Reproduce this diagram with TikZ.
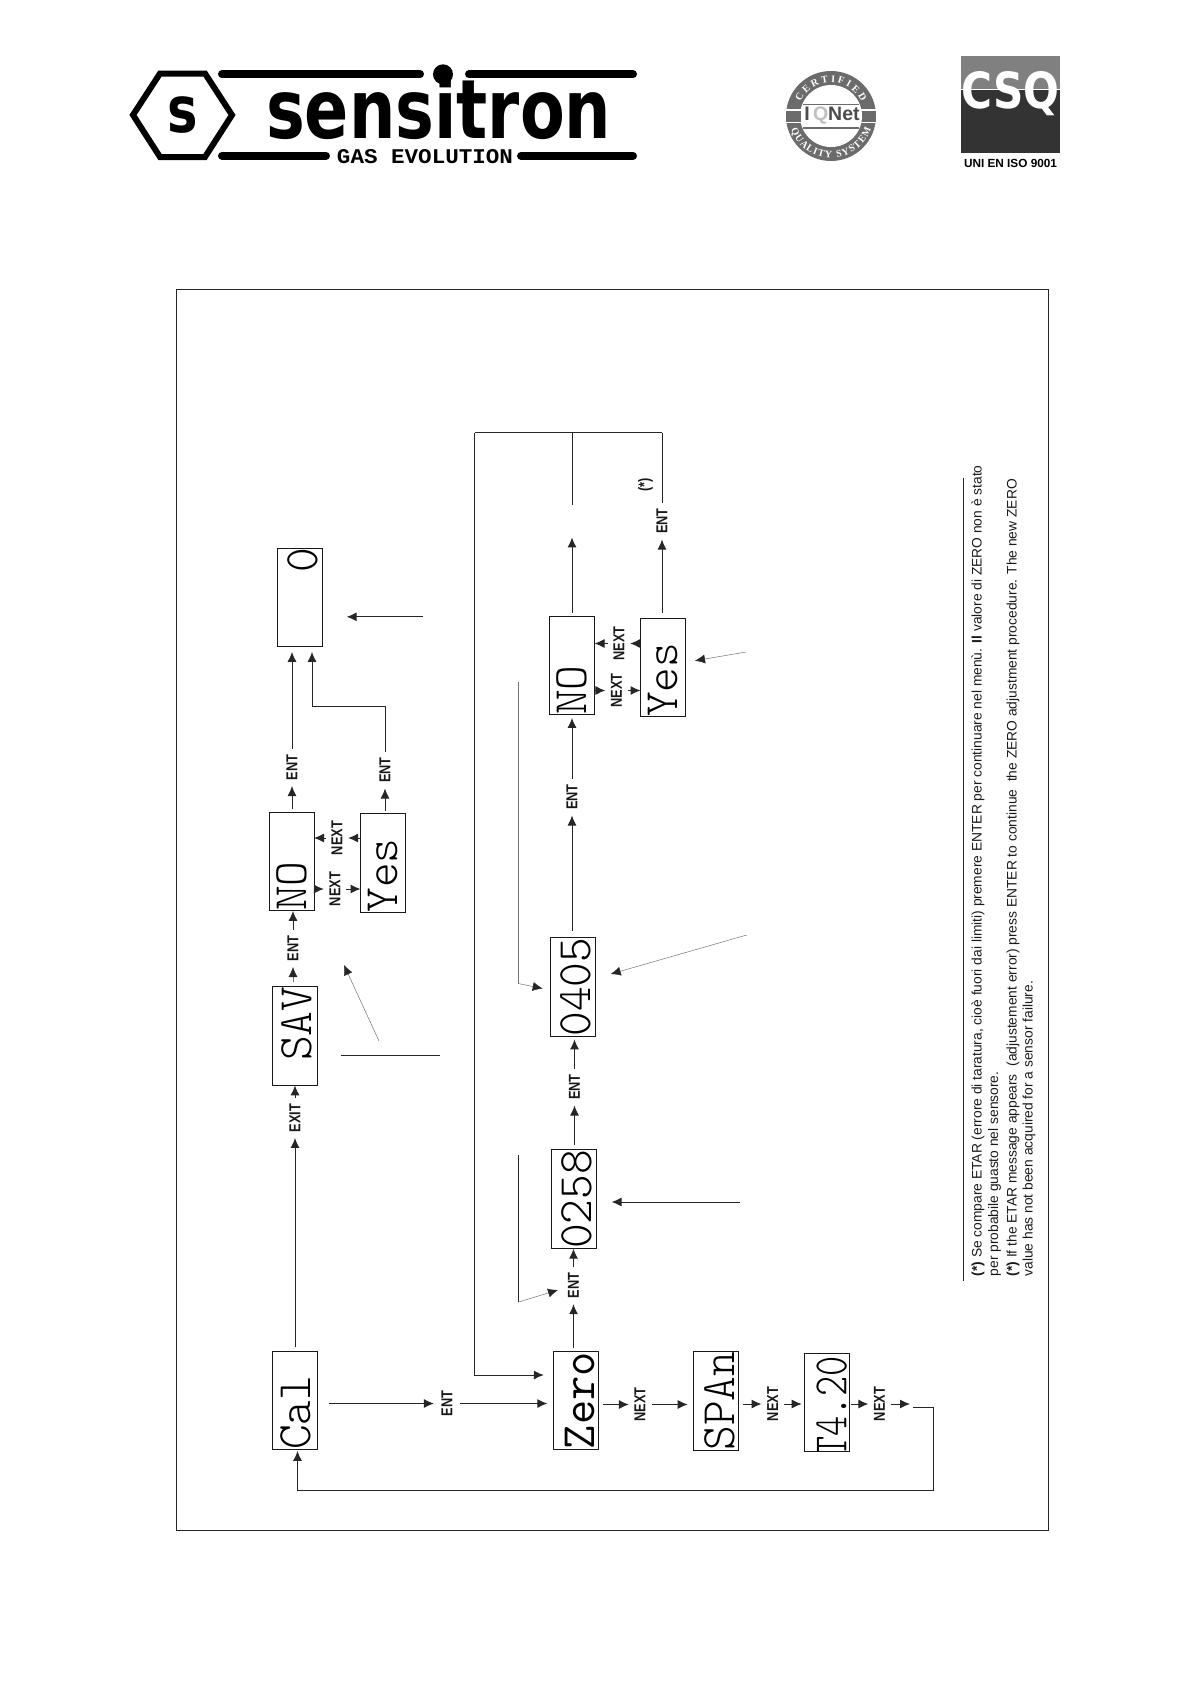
\documentclass[tikz,border=0pt]{standalone}
\usepackage{fontspec}
\usepackage{graphicx}
\setmainfont{Liberation Sans}
\newfontfamily\logofont{DejaVu Sans}
\newfontfamily\slabfont{Liberation Mono}
\newfontfamily\serfont{Liberation Serif}
\newfontfamily\lcdlight{Latin Modern Mono Light}
\usetikzlibrary{arrows.meta,decorations.text}
\newcommand\rv[1]{\rotatebox{90}{\scalebox{.81}[1]{#1}}}
\newcommand\lcd[2][0pt]{\hspace*{#1}\rotatebox{90}{\scalebox{.98}[1]{\ttfamily\fontsize{48}{48}\selectfont #2}}}
\newcommand\lcdl[2][0pt]{\hspace*{#1}\rotatebox{90}{\scalebox{.98}[1]{\lcdlight\fontsize{48}{48}\selectfont #2}}}
\tikzset{
  x=1pt,y=-1pt,
  dbox/.style={draw=black!90,line width=1pt,minimum width=45pt,minimum height=98.5pt,inner sep=0pt,outer sep=0pt},
  lab/.style={inner sep=5.5pt,font=\bfseries\fontsize{15.8}{16}\selectfont,text=black!90},
  ln/.style={line width=1pt,draw=black!85},
  arr/.style={ln,-{Latex[length=10pt,width=9pt,color=black!85]}},
  garr/.style={line width=.5pt,draw=black!55,-{Latex[length=10pt,width=9pt,color=black!85]}},
  note/.style={rotate=90,anchor=base west,inner sep=0pt,font=\fontsize{13.8}{14}\selectfont,text=black!90},
  bar/.style={line width=8pt,line cap=round,draw=black},
}
\begin{document}
\begin{tikzpicture}
\useasboundingbox (0,0) rectangle (1191,1684);
% ---------- logo
\draw[line width=6pt,draw=black] (133,115) -- (160,73.5) -- (205,73.5) -- (232,115) -- (205,157) -- (160,157) -- cycle;
\node[inner sep=0pt,font=\logofont\bfseries] (logoS) at (183,115) {\scalebox{.8}[1]{\fontsize{64}{64}\selectfont s}};
\coordinate (tlA) at (222,74.3); \coordinate (tlB) at (420,74.3);
\coordinate (trA) at (469,74.3); \coordinate (trB) at (633,74.3);
\coordinate (blA) at (222,155.7); \coordinate (blB) at (326,155.7);
\coordinate (brA) at (521,155.7); \coordinate (brB) at (633,155.7);
\draw[bar] (tlA) -- (tlB); \draw[bar] (trA) -- (trB);
\draw[bar] (blA) -- (blB); \draw[bar] (brA) -- (brB);
\node[anchor=base west,inner sep=0pt,font=\logofont\bfseries] (logoT) at (266,138) {\scalebox{.795}[1]{\fontsize{82}{82}\selectfont sensitron}};
\fill[black] (443,74.3) circle (10);
\node[inner sep=0pt,font=\slabfont\bfseries] (logoG) at (425,156.5) {\resizebox{176pt}{14pt}{GAS EVOLUTION}};
% ---------- IQNet
\begin{scope}[shift={(831,116)},y=1pt]
  \fill[black!58] (0,0) circle (45);
  \fill[white] (0,0) circle (31);
  \fill[white] (-45,5.5) rectangle (45,7);
  \fill[white] (-45,-7) rectangle (45,-5.5);
  \fill[black!58] (-28,11) rectangle (28,12.5);
  \fill[black!58] (-28,-12.5) rectangle (28,-11);
  \fill[black!58] (-45,-5.5) rectangle (-30.5,5.5);
  \fill[black!58] (30.5,-5.5) rectangle (45,5.5);
  \node[inner sep=0pt,font=\bfseries\fontsize{19.5}{20}\selectfont,text=black!70] (iq) at (1,0) {I\,{\color{black!25}Q}Net};
  \path[decorate,decoration={text along path,text align=fit to path,text={|\serfont\bfseries\fontsize{10}{10}\selectfont\color{white}|CERTIFIED}}]
    (155:33.5) arc[start angle=155,end angle=25,radius=33.5];
  \path[decorate,decoration={text along path,text align=fit to path,text={|\serfont\bfseries\fontsize{10}{10}\selectfont\color{white}|QUALITY SYSTEM}}]
    (198:42) arc[start angle=198,end angle=342,radius=42];
\end{scope}
% ---------- CSQ
\fill[black!50] (961,56) rectangle (1060,89);
\fill[black!80] (961,89) rectangle (1060,153);
\node[inner sep=0pt,text=white,font=\logofont\bfseries] (csq) at (1010.5,93.5) {\resizebox{98pt}{37pt}{CSQ}};
\fill[white] (961,88.5) rectangle (1060,90);
\node[inner sep=0pt,font=\bfseries] (uni) at (1010.5,163.5) {\resizebox{93pt}{!}{UNI EN ISO 9001}};
% ---------- frame
\draw[line width=.9pt,draw=black!85] (176,289) rectangle (1048,1530);
% ---------- boxes
\node[dbox] (cal) at (295,1400.5) {\lcdl[2pt]{Cal~}};
\node[dbox] (sav) at (295,1036) {\lcdl[4pt]{~SAV}};
\node[dbox] (noA) at (291.5,861.5) {\lcdl{NO~~}};
\node[dbox] (yesA) at (383,863) {\lcdl{Yes~}};
\node[dbox] (zeroBox) at (299.5,597.5) {\lcdl[6pt]{~~~0}};
\node[dbox] (zero) at (575.8,1400.7) {\lcd[8pt]{Zero}};
\node[dbox] (span) at (715.8,1401.2) {\lcdl[8pt]{SPAn}};
\node[dbox,path picture={\node[inner sep=0pt] (tfour) at ([xshift=5pt,yshift=-4pt]path picture bounding box.center) {\rotatebox{90}{\scalebox{.8}[1]{\lcdlight\fontsize{48}{48}\selectfont T4.20}}};}] (tbox) at (826.8,1402.5) {};
\node[dbox] (dA) at (574,1199.3) {\lcdl[6pt]{0258}};
\node[dbox] (dB) at (573,987) {\lcdl[6pt]{0405}};
\node[dbox] (noB) at (572,665.5) {\lcdl{NO~~}};
\node[dbox] (yesB) at (663,667.5) {\lcdl{Yes~}};
% ---------- labels
\node[lab] (eA) at (292,767.5) {\rv{ENT}};
\node[lab] (eB) at (385,770) {\rv{ENT}};
\node[lab] (eC) at (293,948.5) {\rv{ENT}};
\node[lab] (nA) at (335,889) {\rv{NEXT}};
\node[lab] (nB) at (337,838) {\rv{NEXT}};
\node[lab] (ex) at (295,1118) {\rv{EXIT}};
\node[lab] (eD) at (447,1403.5) {\rv{ENT}};
\node[lab] (eE) at (573.5,1285.7) {\rv{ENT}};
\node[lab] (eF) at (574.5,1087) {\rv{ENT}};
\node[lab] (eG) at (572,797) {\rv{ENT}};
\node[lab] (eH) at (662,521) {\rv{ENT}};
\node[lab] (nC) at (616.5,690.5) {\rv{NEXT}};
\node[lab] (nD) at (619,643.5) {\rv{NEXT}};
\node[lab] (nE) at (640,1404.5) {\rv{NEXT}};
\node[lab] (nF) at (772.7,1404) {\rv{NEXT}};
\node[lab] (nG) at (879.5,1404) {\rv{NEXT}};
\node[inner sep=0pt,font=\bfseries\fontsize{15.8}{16}\selectfont,text=black!90] (star) at (645.5,485) {\rv{(*)}};
% ---------- free ends
\coordinate (jB) at (312,706);
\coordinate (topL) at (474.5,432.5); \coordinate (topM) at (572,432.5); \coordinate (topR) at (662,432.5);
\coordinate (midEnd) at (572,505); \coordinate (midTip) at (572,537.4);
\coordinate (fbIn) at (474.5,1375);
\coordinate (retA) at (913,1407); \coordinate (retB) at (933.5,1407);
\coordinate (retC) at (933.5,1490); \coordinate (retD) at (297.5,1490);
\coordinate (aA) at (422.7,616.8); \coordinate (aAt) at (346.7,616.8);
\coordinate (bA) at (379,1041); \coordinate (bAt) at (344,965);
\coordinate (hA) at (341,1055.7); \coordinate (hB) at (440,1055.7);
\coordinate (cA) at (740,1202); \coordinate (cAt) at (611.6,1202);
\coordinate (dA1) at (746.7,935); \coordinate (dAt) at (610.7,974);
\coordinate (fA) at (746,652); \coordinate (fAt) at (695,660.7);
\coordinate (gA) at (518.3,682); \coordinate (gB) at (518.3,983.5); \coordinate (gAt) at (542.7,988.5);
\coordinate (kA) at (518.7,1155); \coordinate (kB) at (518.7,1302); \coordinate (kAt) at (558,1290);
% ---------- top row connectors
\draw[arr,shorten <=3pt] (noA.north -| eA) -- (eA);
\draw[arr,shorten >=5pt] (eA) -- (zeroBox.south -| eA);
\draw[arr,shorten <=3pt] (yesA.north -| eB) -- (eB);
\draw[ln] (eB) |- (jB);
\draw[arr,shorten >=5pt] (jB) -- (zeroBox.south -| jB);
\draw[garr,shorten <=5pt] (sav.north -| eC) -- (eC);
\draw[arr] (eC) -- (noA.south -| eC);
\draw[arr,shorten <=1pt] (noA.east |- nA) -- (nA);
\draw[arr] (nA) -- (yesA.west |- nA);
\draw[arr] (yesA.west |- nB) -- (nB);
\draw[arr] (nB) -- (noA.east |- nB);
\draw[arr,shorten <=4pt] (cal.north -| ex) -- (ex);
\draw[arr] (ex) -- (sav.south -| ex);
% ---------- middle row
\draw[arr,shorten <=11pt,shorten >=2pt] (cal.east |- eD) -- (eD);
\draw[arr,shorten <=2pt,shorten >=6pt] (eD) -- (zero.west |- eD);
\draw[arr,shorten <=3pt] (zero.north -| eE) -- (eE);
\draw[arr] (eE) -- (dA.south -| eE);
\draw[arr,shorten <=5pt] (dA.north -| eF) -- (eF);
\draw[arr,shorten >=3pt] (eF) -- (dB.south -| eF);
\draw[arr,shorten <=7pt] (dB.north -| eG) -- (eG);
\draw[arr,shorten >=3pt] (eG) -- (noB.south -| eG);
\draw[arr,shorten <=3pt] (noB.north) -- (midTip);
\draw[arr,shorten <=5pt] (yesB.north -| eH) -- (eH);
\draw[ln] (eH) -- (topR);
\draw[ln] (midEnd) -- (topM);
\draw[ln] (topR) -- (topL);
\draw[arr,shorten >=9.5pt] (topL) |- (zero.west |- fbIn);
\draw[arr] (noB.east |- nC) -- (nC);
\draw[arr] (nC) -- (yesB.west |- nC);
\draw[arr] (yesB.west |- nD) -- (nD);
\draw[arr] (nD) -- (noB.east |- nD);
% ---------- bottom row
\draw[arr,shorten <=4.6pt] (zero.east |- nE) -- (nE);
\draw[arr,shorten <=1pt,shorten >=5.6pt] (nE) -- (span.west |- nE);
\draw[arr,shorten <=5pt] (span.east |- nF) -- (nF);
\draw[arr,shorten >=2.6pt] (nF) -- (tbox.west |- nF);
\draw[arr,shorten <=2pt] (tbox.east |- nG) -- (nG);
\draw[arr,shorten >=3pt] (nG) -- (retA |- nG);
\draw[arr,shorten >=1pt] (retA) -- (retB) -- (retC) -- (retD) -- (cal.south -| retD);
% ---------- callouts
\draw[arr] (aA) -- (aAt);
\draw[garr] (bA) -- (bAt);
\draw[ln] (hA) -- (hB);
\draw[arr] (cA) -- (cAt);
\draw[garr] (dA1) -- (dAt);
\draw[garr] (fA) -- (fAt);
\draw[line width=.5pt,draw=black!55] (gA) -- (gB);
\draw[garr] (gB) -- (gAt);
\draw[ln] (kA) -- (kB);
\draw[garr] (kB) -- (kAt);
% ---------- footnote
\coordinate (ruleA) at (963,477.5); \coordinate (ruleB) at (963,1281);
\draw[ln] (ruleA) -- (ruleB);
\node[note] (fnA) at (981.5,1276.5) {\textbf{(*)} Se compare ETAR (errore di taratura, cioè fuori dai limiti) premere ENTER per continuare nel menù. \textbf{Il} valore di ZERO non è stato};
\node[note] (fnB) at (998,1276.5) {per probabile guasto nel sensore.};
\node[note] (fnC) at (1016.5,1276.5) {\textbf{(*)} If the ETAR message appears \ (adjustement error) press ENTER to continue \ the ZERO adjustment procedure. The new ZERO};
\node[note] (fnD) at (1032.5,1276.5) {value has not been acquired for a sensor failure.};
\end{tikzpicture}
\end{document}
